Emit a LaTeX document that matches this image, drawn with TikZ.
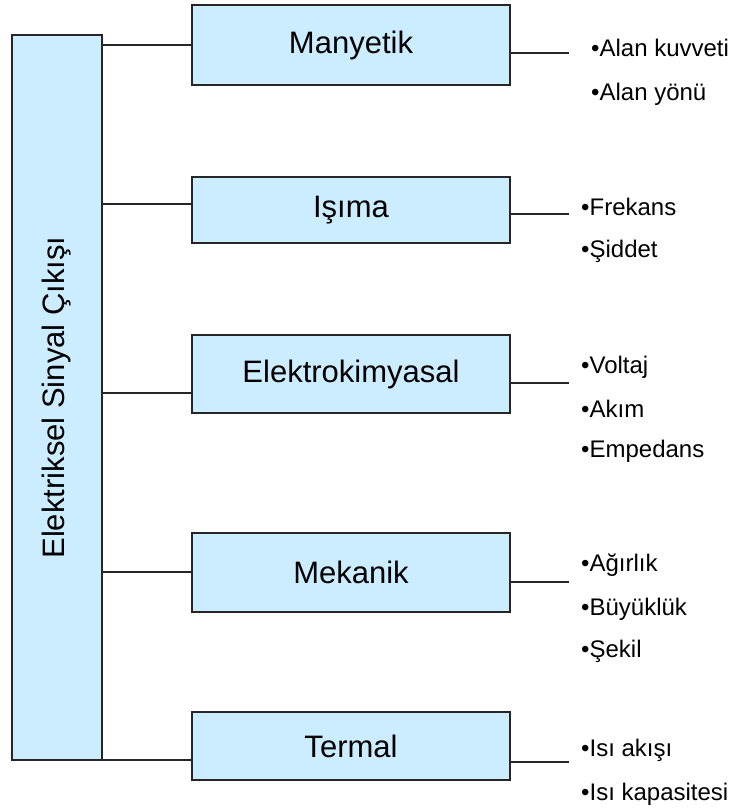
\documentclass[tikz,border=0pt]{standalone}
\usepackage{fontspec}
\setmainfont{Liberation Sans}
\definecolor{kutumavi}{RGB}{204,236,255}
\tikzset{
	kutu/.style={draw=black!85, line width=1.6pt, fill=kutumavi, inner sep=0pt, font=\fontsize{31}{36}\selectfont},
	baglanti/.style={draw=black!85, line width=1.3pt},
	madde/.style={anchor=base west, inner sep=0pt, font=\fontsize{24}{28}\selectfont}
}
\begin{document}
\begin{tikzpicture}[x=1pt,y=-1pt]
	\useasboundingbox (0,0) rectangle (737,811);
	% sol kutu
	\node[kutu, rotate=90, minimum width=725pt, minimum height=90pt] (sig) at (57,397.5) {Elektriksel Sinyal Çıkışı};
	% olcum turleri
	\node[kutu, minimum width=318pt, minimum height=80pt] (man) at (351,45) {Manyetik};
	\node[kutu, minimum width=318pt, minimum height=66pt] (isi) at (351,210) {Işıma};
	\node[kutu, minimum width=318pt, minimum height=78pt] (elk) at (351,374) {Elektrokimyasal};
	\node[kutu, minimum width=318pt, minimum height=79pt] (mek) at (351,572.5) {Mekanik};
	\node[kutu, minimum width=318pt, minimum height=68pt] (ter) at (351,746) {Termal};
	% sol baglantilar (dondurulmus kutunun sag kenari: south)
	\foreach \k/\y in {man/45, isi/204, elk/393, mek/572, ter/760} {
		\coordinate (h\k) at (0,\y);
		\draw[baglanti] (sig.south |- h\k) -- (\k.west |- h\k);
	}
	% sag baglantilar
	\foreach \k/\y in {man/53, isi/214, elk/383, mek/582, ter/762} {
		\coordinate (u\k) at (569,\y);
		\draw[baglanti] (\k.east |- u\k) -- (u\k);
	}
	% maddeler
	\node[madde] (m1) at (591,56) {•Alan kuvveti};
	\node[madde] (m2) at (591,100) {•Alan yönü};
	\node[madde] (i1) at (581,215) {•Frekans};
	\node[madde] (i2) at (581,257) {•Şiddet};
	\node[madde] (e1) at (581,373) {•Voltaj};
	\node[madde] (e2) at (581,417) {•Akım};
	\node[madde] (e3) at (581,457) {•Empedans};
	\node[madde] (k1) at (581,571) {•Ağırlık};
	\node[madde] (k2) at (581,615) {•Büyüklük};
	\node[madde] (k3) at (581,657) {•Şekil};
	\node[madde] (t1) at (581,756) {•Isı akışı};
	\node[madde] (t2) at (581,800) {•Isı kapasitesi};
\end{tikzpicture}
\end{document}
